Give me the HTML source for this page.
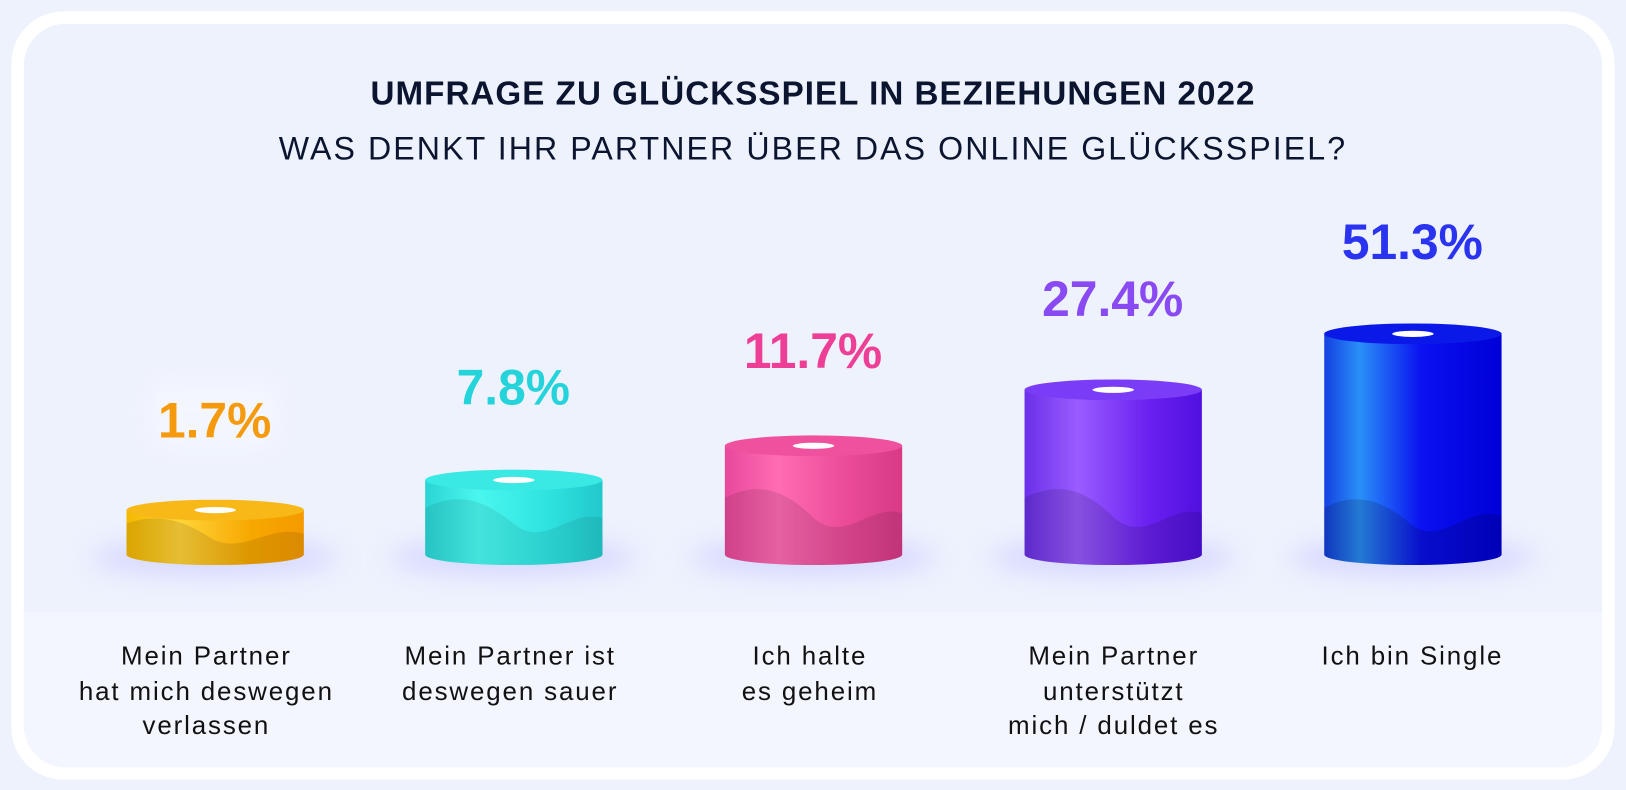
<!DOCTYPE html>
<html><head><meta charset="utf-8"><style>
html,body{margin:0;padding:0;background:#eef2fc;}
svg{display:block}
</style></head><body>
<svg width="1626" height="790" viewBox="0 0 1568 762" preserveAspectRatio="none" xmlns="http://www.w3.org/2000/svg">
<defs>
<filter id="bl" x="-50%" y="-100%" width="200%" height="300%"><feGaussianBlur stdDeviation="12"/></filter>
<linearGradient id="g1" x1="0" x2="1"><stop offset="0" stop-color="#f4b800"/><stop offset=".3" stop-color="#ffd43a"/><stop offset=".7" stop-color="#f7a800"/><stop offset="1" stop-color="#f59a00"/></linearGradient>
<linearGradient id="g2" x1="0" x2="1"><stop offset="0" stop-color="#2ad4d4"/><stop offset=".3" stop-color="#4af7ee"/><stop offset=".7" stop-color="#2ee2e0"/><stop offset="1" stop-color="#22c8cc"/></linearGradient>
<linearGradient id="g3" x1="0" x2="1"><stop offset="0" stop-color="#e8489a"/><stop offset=".3" stop-color="#ff6cb4"/><stop offset=".7" stop-color="#ea4a98"/><stop offset="1" stop-color="#d83a88"/></linearGradient>
<linearGradient id="g4" x1="0" x2="1"><stop offset="0" stop-color="#6a30e8"/><stop offset=".3" stop-color="#9a5cff"/><stop offset=".7" stop-color="#6a20f0"/><stop offset="1" stop-color="#5010e0"/></linearGradient>
<linearGradient id="g5" x1="0" x2="1"><stop offset="0" stop-color="#1440e0"/><stop offset=".2" stop-color="#2a90f8"/><stop offset=".55" stop-color="#0a10f0"/><stop offset="1" stop-color="#0000d8"/></linearGradient>
</defs>
<rect x="0" y="0" width="1568" height="762" fill="#eef2fc"/>
<rect x="11" y="11" width="1546" height="741" rx="50" fill="#ffffff"/>
<rect x="23" y="23" width="1522" height="717" rx="40" fill="#eef2fd"/>
<path d="M23 590 H1545 V700 a40 40 0 0 1 -40 40 H63 a40 40 0 0 1 -40 -40 Z" fill="#f3f6fe"/>
<text x="784" y="101" text-anchor="middle" font-family="Liberation Sans, sans-serif" font-weight="bold" font-size="32" letter-spacing="1" fill="#0b1530">UMFRAGE ZU GLÜCKSSPIEL IN BEZIEHUNGEN 2022</text>
<text x="784" y="154" text-anchor="middle" font-family="Liberation Sans, sans-serif" font-size="31" fill="#0b1530" letter-spacing="2">WAS DENKT IHR PARTNER ÜBER DAS ONLINE GLÜCKSSPIEL?</text>
<g font-family="Liberation Sans, sans-serif" font-weight="bold" font-size="48" text-anchor="middle">
<rect x="147" y="370" width="120" height="60" fill="#f6f8fe" opacity=".8" filter="url(#bl)"/>
<text x="207" y="422" fill="#f59a0c">1.7%</text>
<text x="495" y="390" fill="#25d3da">7.8%</text>
<text x="784" y="355" fill="#ee3f96">11.7%</text>
<text x="1073" y="305" fill="#8a4af3">27.4%</text>
<text x="1362" y="250" fill="#2a33f0">51.3%</text>
</g>
<g>
<ellipse cx="207" cy="538" rx="120" ry="18" fill="#c8c8ff" opacity=".6" filter="url(#bl)"/>
<ellipse cx="495" cy="538" rx="120" ry="18" fill="#c8c8ff" opacity=".6" filter="url(#bl)"/>
<ellipse cx="784" cy="538" rx="120" ry="18" fill="#c8c8ff" opacity=".6" filter="url(#bl)"/>
<ellipse cx="1073" cy="538" rx="120" ry="18" fill="#c8c8ff" opacity=".6" filter="url(#bl)"/>
<ellipse cx="1362" cy="538" rx="120" ry="18" fill="#c8c8ff" opacity=".6" filter="url(#bl)"/>
</g>
<g>
<path d="M122 492 V535 A85.5 10 0 0 0 293 535 V492 Z" fill="url(#g1)"/>
<path d="M122 505 C150 495,175 500,205 520 C235 535,260 505,293 515 V535 A85.5 10 0 0 1 122 535 Z" fill="#000" opacity=".1"/>
<ellipse cx="207.5" cy="492" rx="85.5" ry="10" fill="#f7b818"/>
<ellipse cx="207.5" cy="492" rx="20" ry="3" fill="#fff"/>

<path d="M410 463 V535 A85.5 10 0 0 0 581 535 V463 Z" fill="url(#g2)"/>
<path d="M410 490 C440 475,465 480,495 505 C525 530,550 490,581 500 V535 A85.5 10 0 0 1 410 535 Z" fill="#000" opacity=".08"/>
<ellipse cx="495.5" cy="463" rx="85.5" ry="10" fill="#3ae8e4"/>
<ellipse cx="495.5" cy="463" rx="20" ry="3" fill="#fff"/>

<path d="M699 430 V535 A85.5 10 0 0 0 870 535 V430 Z" fill="url(#g3)"/>
<path d="M699 480 C730 465,755 470,785 500 C815 525,840 485,870 495 V535 A85.5 10 0 0 1 699 535 Z" fill="#000" opacity=".1"/>
<ellipse cx="784.5" cy="430" rx="85.5" ry="10" fill="#f0519e"/>
<ellipse cx="784.5" cy="430" rx="20" ry="3" fill="#fff"/>

<path d="M988 376 V535 A85.5 10 0 0 0 1159 535 V376 Z" fill="url(#g4)"/>
<path d="M988 480 C1020 465,1045 470,1075 500 C1105 525,1130 485,1159 495 V535 A85.5 10 0 0 1 988 535 Z" fill="#000" opacity=".12"/>
<ellipse cx="1073.5" cy="376" rx="85.5" ry="10" fill="#7a3cf6"/>
<ellipse cx="1073.5" cy="376" rx="20" ry="3" fill="#fff"/>

<path d="M1277 322 V535 A85.5 10 0 0 0 1448 535 V322 Z" fill="url(#g5)"/>
<path d="M1277 490 C1305 475,1330 480,1360 505 C1390 530,1415 485,1448 498 V535 A85.5 10 0 0 1 1277 535 Z" fill="#000" opacity=".15"/>
<ellipse cx="1362.5" cy="322" rx="85.5" ry="10" fill="#0a18e8"/>
<ellipse cx="1362.5" cy="322" rx="20" ry="3" fill="#fff"/>
</g>
<g font-family="Liberation Sans, sans-serif" font-size="25" letter-spacing="1.8" fill="#111" text-anchor="middle">
<text x="199" y="641">Mein Partner</text>
<text x="199" y="675">hat mich deswegen</text>
<text x="199" y="708">verlassen</text>
<text x="492" y="641">Mein Partner ist</text>
<text x="492" y="675">deswegen sauer</text>
<text x="781" y="641">Ich halte</text>
<text x="781" y="675">es geheim</text>
<text x="1074" y="641">Mein Partner</text>
<text x="1074" y="675">unterstützt</text>
<text x="1074" y="708">mich / duldet es</text>
<text x="1362" y="641">Ich bin Single</text>
</g>
</svg>
</body></html>
